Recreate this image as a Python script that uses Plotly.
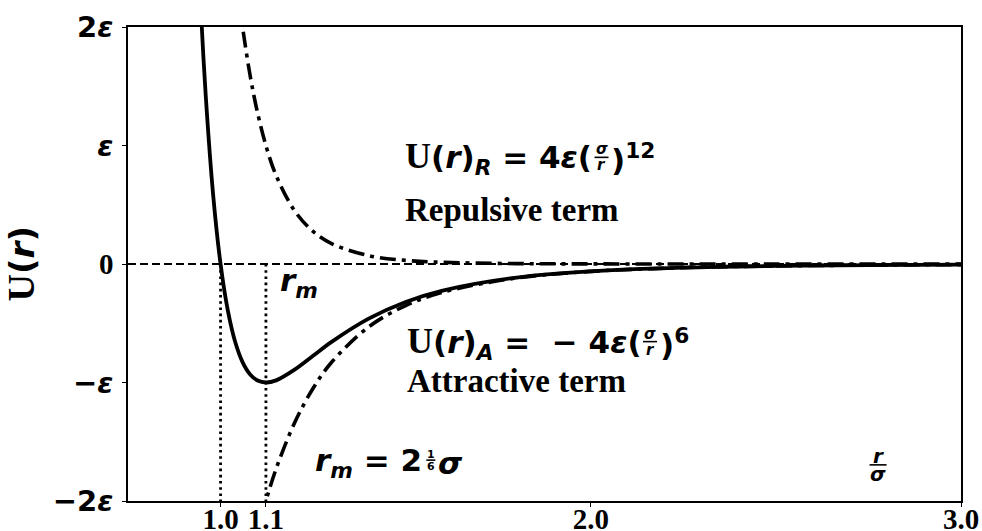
import plotly.graph_objects as go

# Lennard-Jones potential in reduced units: r in units of sigma, energies in units of epsilon
r_total = [0.94, 0.95, 0.96, 0.98, 1.00, 1.02, 1.04, 1.06, 1.08, 1.10, 1.1225,
           1.15, 1.20, 1.25, 1.30, 1.40, 1.50, 1.60, 1.80, 2.00, 2.25, 2.50, 2.75, 3.00]
u_total = [2.607, 1.961, 1.418, 0.582, 0.0, -0.398, -0.663, -0.832, -0.932, -0.983, -1.000,
           -0.982, -0.891, -0.774, -0.657, -0.461, -0.320, -0.224, -0.114, -0.0615, -0.0306,
           -0.0163, -0.0092, -0.0055]

# repulsive term 4*eps*(sigma/r)^12
r_rep = [1.05, 1.06, 1.08, 1.10, 1.125, 1.15, 1.20, 1.25, 1.30, 1.40, 1.50, 1.60,
         1.80, 2.00, 2.50, 3.00]
u_rep = [2.227, 1.988, 1.588, 1.275, 0.973, 0.748, 0.449, 0.275, 0.172, 0.0706, 0.0308,
         0.0142, 0.0035, 0.0010, 0.0001, 0.0]

# attractive term -4*eps*(sigma/r)^6
r_att = [1.11, 1.12, 1.15, 1.20, 1.25, 1.30, 1.40, 1.50, 1.60, 1.80, 2.00, 2.25, 2.50,
         2.75, 3.00]
u_att = [-2.139, -2.027, -1.729, -1.340, -1.049, -0.829, -0.531, -0.351, -0.238, -0.118,
         -0.0625, -0.0308, -0.0164, -0.0092, -0.0055]

r_sigma = 1.0        # U(sigma) = 0
r_min = 1.1225       # r_m = 2^(1/6) sigma
x_range = [0.75, 3.0]
y_range = [-2.0, 2.0]

x_ticks = [1.0, r_min, 2.0, 3.0]
x_tick_text = ["1.0", "1.1", "2.0", "3.0"]
y_ticks = [-2, -1, 0, 1, 2]
SANS = "<span style='font-family:DejaVu Sans'>{}</span>"
y_tick_text = [SANS.format("\u22122<i>\u03b5</i>"), SANS.format("\u2212<i>\u03b5</i>"), "0",
               SANS.format("<i>\u03b5</i>"), SANS.format("2<i>\u03b5</i>")]

# plot-area geometry, used to place labels by pixel offsets
W, H = 982, 531
M = dict(l=128, r=21, t=27, b=30)
PX_X = (W - M["l"] - M["r"]) / (x_range[1] - x_range[0])
PX_Y = (H - M["t"] - M["b"]) / (y_range[1] - y_range[0])


def dx(px):
    return px / PX_X


def dy(px):
    return px / PX_Y


fig = go.Figure()

# zero reference line
fig.add_trace(go.Scatter(x=x_range, y=[0, 0], mode="lines",
                         line=dict(color="black", width=2.2, dash="8px,4px"),
                         hoverinfo="skip"))
# vertical guides at sigma and r_m
for rv in (r_sigma, r_min):
    fig.add_trace(go.Scatter(x=[rv, rv], y=[0, y_range[0]], mode="lines",
                             line=dict(color="black", width=2.8, dash="2.6px,3.6px"),
                             hoverinfo="skip"))

DASHDOT = "16px,6px,4px,6px"
fig.add_trace(go.Scatter(x=r_rep, y=u_rep, mode="lines", line_shape="spline",
                         line=dict(color="black", width=3.6, dash=DASHDOT)))
fig.add_trace(go.Scatter(x=r_att, y=u_att, mode="lines", line_shape="spline",
                         line=dict(color="black", width=3.6, dash=DASHDOT)))
fig.add_trace(go.Scatter(x=r_total, y=u_total, mode="lines", line_shape="spline",
                         line=dict(color="black", width=3.8)))

SERIF = "Liberation Serif"
MATH = dict(family="DejaVu Sans", size=31, color="black", weight="bold")
TXT = dict(family=SERIF, size=33, color="black", weight="bold")
U_SPAN = "<span style='font-family:Liberation Serif;font-size:36px'>U</span>"


def note(x, y, text, font, xanchor="left", yanchor="middle"):
    fig.add_annotation(x=x, y=y, text=text, showarrow=False, font=font,
                       xanchor=xanchor, yanchor=yanchor, xref="x", yref="y")


def frac(x, y, num, den, size, gap, bar):
    """Stacked fraction centred on (x, y): numerator, bar, denominator."""
    f = dict(family="DejaVu Sans", size=size, color="black", weight="bold")
    note(x, y + dy(gap), num, f, xanchor="center")
    note(x, y - dy(gap), den, f, xanchor="center")
    fig.add_shape(type="line", xref="x", yref="y",
                  x0=x - dx(bar / 2), x1=x + dx(bar / 2), y0=y, y1=y,
                  line=dict(color="black", width=1.6))


# repulsive term
note(1.494, 0.895, U_SPAN + "(<i>r</i>)<sub><i>R</i></sub> = 4<i>\u03b5</i>(", MATH)
frac(2.029, 0.90, "<i>\u03c3</i>", "<i>r</i>", 15, 8, 14)
note(2.050, 0.895, ")<sup>12</sup>", MATH)
note(1.494, 0.456, "Repulsive term", TXT)

# attractive term
note(1.499, -0.667, U_SPAN + "(<i>r</i>)<sub><i>A</i></sub> =  \u2212 4<i>\u03b5</i>(", MATH)
frac(2.160, -0.655, "<i>\u03c3</i>", "<i>r</i>", 15, 8, 14)
note(2.181, -0.667, ")<sup>6</sup>", MATH)
note(1.499, -0.99, "Attractive term", TXT)

# minimum position
note(1.154, -0.16, "<i>r</i><sub><i>m</i></sub>", MATH)
note(1.251, -1.679, "<i>r</i><sub><i>m</i></sub> = 2", MATH)
frac(1.568, -1.655, "1", "6", 11, 6, 9)
note(1.582, -1.679, "<i>\u03c3</i>", MATH)

# reduced distance label
frac(2.776, -1.695, "<i>r</i>", "<i>\u03c3</i>", 20, 9, 17)

# y-axis title
fig.add_annotation(x=-0.128, y=0.5, xref="paper", yref="paper", showarrow=False,
                   xanchor="center", yanchor="middle",
                   textangle=-90, text=U_SPAN.replace("36px", "38px") + "(<i>r</i>)",
                   font=dict(family="DejaVu Sans", size=34, color="black", weight="bold"))

axis_common = dict(showline=True, linecolor="black", linewidth=1.5, mirror=True,
                   ticks="outside", ticklen=4, tickwidth=1.2, tickcolor="black",
                   showgrid=False, zeroline=False, automargin=False,
                   tickfont=dict(family=SERIF, size=29, color="black", weight="bold"))

fig.update_xaxes(range=x_range, tickvals=x_ticks, ticktext=x_tick_text, tickangle=0,
                 ticklabelstandoff=-13, **axis_common)
fig.update_yaxes(range=y_range, tickvals=y_ticks, ticktext=y_tick_text,
                 ticklabelstandoff=3, **axis_common)

fig.update_layout(width=W, height=H, showlegend=False, margin=M,
                  plot_bgcolor="white", paper_bgcolor="white")

fig.write_html("out.html")
